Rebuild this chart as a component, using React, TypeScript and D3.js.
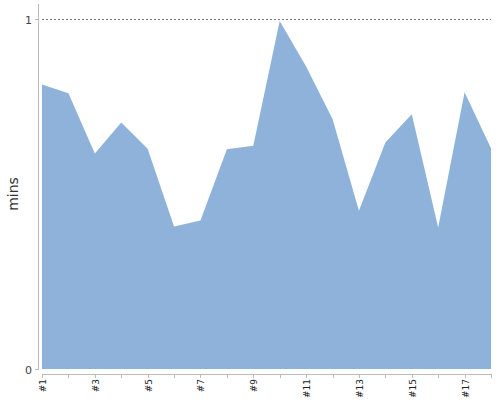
import React, { useEffect, useRef } from 'react';
import * as d3 from 'd3';

const categories = ['#1', '#2', '#3', '#4', '#5', '#6', '#7', '#8', '#9', '#10', '#11', '#12', '#13', '#14', '#15', '#16', '#17', '#18'];
const values = [0.813, 0.788, 0.616, 0.704, 0.629, 0.407, 0.424, 0.628, 0.638, 0.994, 0.864, 0.714, 0.452, 0.647, 0.728, 0.404, 0.791, 0.631];
const yTicks = [0, 1];
const yLabel = 'mins';

const W = 500;
const H = 400;
const m = { left: 42, right: 9, top: 19, bottom: 31 };

export default function App() {
  const svgRef = useRef<SVGSVGElement>(null);

  useEffect(() => {
    if (!svgRef.current) return;
    const svg = d3.select(svgRef.current);
    svg.selectAll('*').remove();

    const x = d3.scalePoint<string>()
      .domain(categories)
      .range([m.left, W - m.right]);
    const y = d3.scaleLinear()
      .domain([0, 1])
      .range([H - m.bottom, m.top]);

    // dotted line at the max
    svg.append('line')
      .attr('x1', m.left).attr('x2', W - m.right)
      .attr('y1', y(1) + 0.5).attr('y2', y(1) + 0.5)
      .attr('stroke', '#777')
      .attr('stroke-dasharray', '2,2');

    const area = d3.area<number>()
      .x((_, i) => x(categories[i]) as number)
      .y0(y(0))
      .y1((d) => y(d));

    svg.append('path')
      .datum(values)
      .attr('d', area)
      .attr('fill', '#8fb2da');

    // y axis
    svg.append('line')
      .attr('x1', 38.5).attr('x2', 38.5)
      .attr('y1', 4).attr('y2', y(0) + 1)
      .attr('stroke', '#bbb');

    yTicks.forEach((t) => {
      svg.append('line')
        .attr('x1', 35).attr('x2', 38)
        .attr('y1', y(t) + 0.5).attr('y2', y(t) + 0.5)
        .attr('stroke', '#bbb');
      svg.append('text')
        .attr('x', 32)
        .attr('y', y(t) + 1)
        .attr('dy', '0.35em')
        .attr('text-anchor', 'end')
        .attr('font-family', 'DejaVu Sans, Verdana, sans-serif')
        .attr('font-size', 11)
        .attr('fill', '#444')
        .text(t);
    });

    // x axis
    const axisY = y(0) + 5;
    svg.append('line')
      .attr('x1', m.left).attr('x2', W - m.right)
      .attr('y1', axisY + 0.5).attr('y2', axisY + 0.5)
      .attr('stroke', '#bbb');

    categories.forEach((c, i) => {
      const cx = Math.round(x(c) as number) + 0.5;
      svg.append('line')
        .attr('x1', cx).attr('x2', cx)
        .attr('y1', axisY).attr('y2', axisY + 4)
        .attr('stroke', '#bbb');
      if (i % 2 === 0) {
        svg.append('text')
          .attr('transform', `translate(${cx + 3},${axisY + 5}) rotate(-90)`)
          .attr('text-anchor', 'end')
          .attr('font-family', 'DejaVu Sans, Verdana, sans-serif')
          .attr('font-size', 9)
          .attr('fill', '#222')
          .text(c);
      }
    });

    svg.append('text')
      .attr('transform', `translate(18,${(y(0) + y(1)) / 2}) rotate(-90)`)
      .attr('text-anchor', 'middle')
      .attr('font-family', 'DejaVu Sans, Verdana, sans-serif')
      .attr('font-size', 14)
      .attr('fill', '#333')
      .text(yLabel);
  }, []);

  return (
    <svg
      ref={svgRef}
      width={W}
      height={H}
      style={{ position: 'absolute', left: 0, top: 0, background: '#fff' }}
    />
  );
}
